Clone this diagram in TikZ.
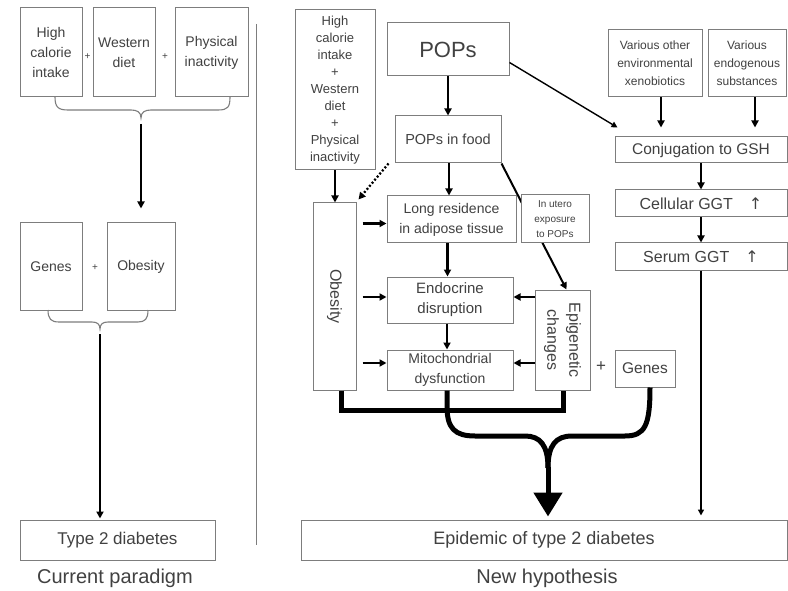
\documentclass[tikz,border=0pt]{standalone}
\usepackage{fontspec}
\setmainfont{Liberation Sans}
\newfontfamily\dejavu{DejaVu Sans}
\usetikzlibrary{arrows.meta,calc}
\definecolor{txt}{RGB}{65,65,65}
\definecolor{bord}{RGB}{125,125,125}
\newcommand\myfs[2]{\fontsize{#1}{#2}\selectfont}
\begin{document}
\begin{tikzpicture}[x=1pt,y=-1pt,
  box/.style={draw=bord, line width=1pt, fill=white, text=txt, align=center, inner sep=1pt, font=\myfs{14}{20}},
  lbl/.style={text=txt, align=center, inner sep=0pt},
  plus/.style={text=txt, inner sep=0pt, font=\myfs{10}{12}},
  arr/.style={line width=2.3pt, -{Triangle[length=7pt,width=7pt]}},
  thinarr/.style={line width=1.4pt, -{Triangle[length=6pt,width=6pt]}},
  brace/.style={draw=bord, line width=1.1pt},
  thick5/.style={line width=5pt, line cap=butt}
]
\useasboundingbox (0,0) rectangle (788,591);
% ---------------- left panel ----------------
\node[box,minimum width=62,minimum height=89] (hc1) at (51,52.5) {High\\calorie\\intake};
\node[box,minimum width=62,minimum height=89] (wd1) at (124,52.5) {Western\\diet};
\node[box,minimum width=73,minimum height=89] (pi1) at (211.5,52.5) {Physical\\inactivity};
\node[plus] (p1) at (87.5,57) {+};
\node[plus] (p2) at (165,57) {+};
\draw[brace] (55,97) .. controls (55,107) and (58,110) .. (68,110) -- (131,110)
  .. controls (137,110) and (141,112) .. (141,118) .. controls (141,112) and (145,110) .. (151,110)
  -- (218,110) .. controls (228,110) and (230,107) .. (230,97);
\coordinate (br1) at (141,124);
\node[box,minimum width=62,minimum height=87] (genes1) at (51,266.5) {Genes};
\node[box,minimum width=68,minimum height=87] (obes1) at (141,266.5) {Obesity};
\node[plus] (p3) at (95,268) {+};
\draw[arr, line width=2.8pt] (br1) -- (obes1.north) [shorten >=14pt];
\draw[brace] (48,310) .. controls (48,319) and (51,322) .. (59,322) -- (92,322)
  .. controls (97,322) and (100,324) .. (100,329) .. controls (100,324) and (103,322) .. (108,322)
  -- (138,322) .. controls (145,322) and (148,319) .. (148,310);
\coordinate (br2) at (100,334);
\node[box,minimum width=195,minimum height=40,font=\myfs{17}{20}] (t2d) at (117.5,540) {Type 2 diabetes};
\draw[arr, line width=2.4pt] (br2) -- (br2 |- t2d.north) [shorten >=1pt];
\node[lbl,font=\myfs{20}{24}] (cp) at (115,578) {Current paradigm};
\draw[draw=bord, line width=1pt] (256,24) -- (256,545);
% ---------------- right panel ----------------
\node[box,minimum width=80,minimum height=160,font=\myfs{13}{17}] (hc2) at (335,90) {High\\calorie\\intake\\+\\Western\\diet\\+\\Physical\\inactivity};
\node[box,minimum width=122,minimum height=53,font=\myfs{22}{26}] (pops) at (448,49.5) {POPs};
\node[box,minimum width=106,minimum height=47,font=\myfs{14.5}{18}] (food) at (448,139.5) {POPs in food};
\node[box,minimum width=43,minimum height=187] (obes2) at (334.5,296.5) {};
\node[lbl,rotate=-90,font=\myfs{16}{20}] (obes2t) at (obes2.center) {Obesity};
\node[box,minimum width=129,minimum height=47] (long) at (451.5,219.5) {Long residence\\in adipose tissue};
\node[box,minimum width=126,minimum height=46,font=\myfs{15}{20}] (endo) at (450,300) {Endocrine\\disruption};
\node[box,minimum width=126,minimum height=40] (mito) at (450,370) {Mitochondrial\\dysfunction};
\node[box,minimum width=55,minimum height=100] (epi) at (562.5,340) {};
\node[lbl,rotate=-90,font=\myfs{16}{22}] (epit) at (epi.center) {Epigenetic\\changes};
\node[box,minimum width=60,minimum height=37,font=\myfs{15.5}{18}] (genes2) at (645,368.5) {Genes};
\node[plus,font=\myfs{17}{18}] (p4) at (601,367) {+};
% line from POPs in food through in-utero box to epigenetic changes
\draw[arr, line width=2pt] (food.south east) -- ($(epi.north)+(4,0)$);
\node[box,minimum width=68,minimum height=48,font=\myfs{10}{15}] (utero) at (555,219) {In utero\\exposure\\to POPs};
% vertical arrows
\draw[arr] (pops.south) -- (food.north);
\draw[arr] ($(food.south)+(1,0)$) -- ($(food.south |- long.north)+(1,0)$);
\draw[arr] ($(long.south)+(-4,0)$) -- ($(long.south |- endo.north)+(-4,0)$);
\draw[arr] ($(endo.south)+(-3,0)$) -- ($(endo.south |- mito.north)+(-3,0)$);
\draw[arr] (hc2.south) -- (hc2.south |- obes2.north);
\draw[arr, dash pattern=on 2pt off 2pt] ($(food.south west)+(-6,0)$) -- ($(obes2.north east)+(2,-3)$);
% horizontal arrows from obesity
\draw[arr] ($(obes2.east |- long.west)+(6,4)$) -- ($(long.west)+(0,4)$);
\draw[arr] ($(obes2.east |- endo.west)+(6,-3)$) -- ($(endo.west)+(0,-3)$);
\draw[arr] ($(obes2.east |- mito.west)+(6,-7)$) -- ($(mito.west)+(0,-7)$);
% horizontal arrows from epigenetic changes
\draw[arr] ($(epi.west |- endo.east)+(0,-3)$) -- ($(endo.east)+(0,-3)$);
\draw[arr] ($(epi.west |- mito.east)+(0,-7)$) -- ($(mito.east)+(0,-7)$);
% GGT column
\node[box,minimum width=94,minimum height=67,font=\myfs{12}{18}] (xeno) at (655,63.5) {Various other\\environmental\\xenobiotics};
\node[box,minimum width=78,minimum height=67,font=\myfs{12}{18}] (endog) at (747,63.5) {Various\\endogenous\\substances};
\node[box,minimum width=172,minimum height=26,font=\myfs{15.5}{18}] (conj) at (701,150) {Conjugation to GSH};
\node[box,minimum width=172,minimum height=27,font=\myfs{16}{18}] (cell) at (701,203.5) {Cellular GGT\quad{\dejavu ↑}};
\node[box,minimum width=172,minimum height=27,font=\myfs{16}{18}] (serum) at (701,256.5) {Serum GGT\quad{\dejavu ↑}};
\draw[arr] ($(xeno.south)+(6,0)$) -- ($(xeno.south |- conj.north)+(6,-9)$);
\draw[arr] ($(endog.south)+(8,0)$) -- ($(endog.south |- conj.north)+(8,-9)$);
\coordinate (cj) at ($(conj.north west)+(3,-9)$);
\draw[thinarr] ($(pops.east)+(0,13)$) -- (cj);
\draw[arr] (conj.south) -- (cell.north);
\draw[arr] (cell.south) -- (serum.north);
\node[box,minimum width=486,minimum height=40,font=\myfs{18}{20}] (epid) at (544,540) {Epidemic of type 2 diabetes};
\draw[thinarr, line width=1.6pt] (serum.south) -- (serum.south |- epid.north) [shorten >=4pt];
\node[lbl,font=\myfs{20}{24}] (nh) at (547,578) {New hypothesis};
% thick connectors
\draw[thick5] ($(obes2.south)+(7,0)$) -- ($(obes2.south)+(7,20)$) -| ($(epi.south)+(0.5,0)$);
\coordinate (mg) at (548,468);
\draw[thick5] ($(mito.south)+(-3,0)$) -- ++(0,16) .. controls +(0,22) and (455,436) .. (475,436) -- (525,436)
  .. controls (540,436) and (548,445) .. (mg);
\draw[thick5] ($(genes2.south)+(5,0)$) .. controls +(0,38) and (645,436) .. (625,436) -- (572,436)
  .. controls (556,436) and (548,445) .. (mg);
\draw[line width=5pt, -{Triangle[length=24pt,width=28pt]}] ($(mg)+(0,-1)$) -- ($(epid.north -| mg)+(0,-3)$);
\end{tikzpicture}
\end{document}
